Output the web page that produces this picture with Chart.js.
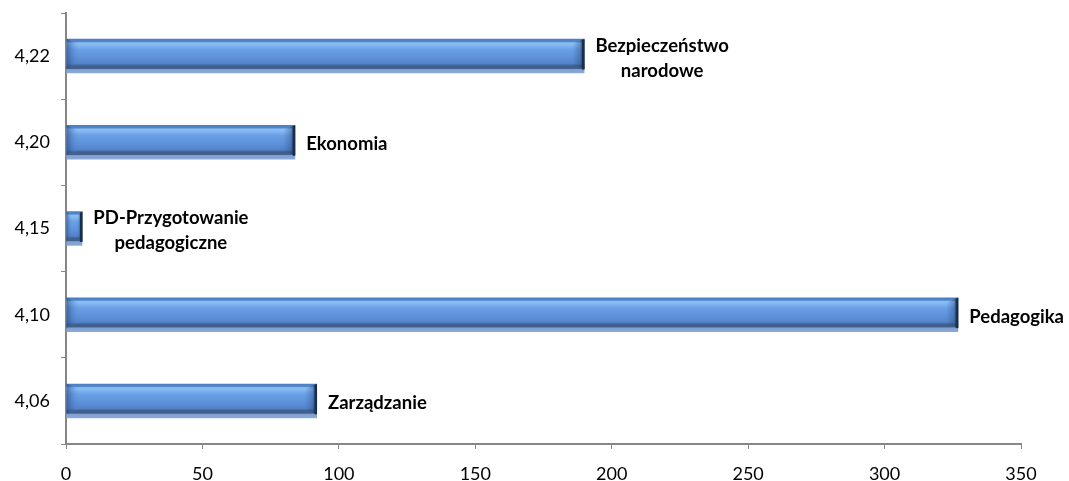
<!DOCTYPE html>
<html>
<head>
<meta charset="utf-8">
<script src="https://cdn.jsdelivr.net/npm/chart.js@4/dist/chart.umd.min.js"></script>
<style>
html,body{margin:0;padding:0;background:#fff;}
#wrap{width:1069px;height:481px;position:relative;}
</style>
</head>
<body>
<div id="wrap"><canvas id="c" width="1069" height="481"></canvas></div>
<script>
const categories = ['4,22', '4,20', '4,15', '4,10', '4,06'];
const values = [190, 84, 6, 327, 92];
const barNames = [['Bezpieczeństwo', 'narodowe'], ['Ekonomia'], ['PD-Przygotowanie', 'pedagogiczne'], ['Pedagogika'], ['Zarządzanie']];
const xTicks = [0, 50, 100, 150, 200, 250, 300, 350];

const FONT = "Lato, 'Open Sans', sans-serif";

const bevelPlugin = {
  id: 'bevel',
  beforeDatasetsDraw(chart) {
    const ctx = chart.ctx;
    const meta = chart.getDatasetMeta(0);
    meta.data.forEach(el => {
      const h = el.height;
      const top = el.y - h / 2;
      const g = ctx.createLinearGradient(0, top, 0, top + h);
      g.addColorStop(0, '#4a7cc0');
      g.addColorStop(0.08, '#5188cc');
      g.addColorStop(0.12, '#8ec0f5');
      g.addColorStop(0.2, '#80b4f0');
      g.addColorStop(0.3, '#6aa0e6');
      g.addColorStop(0.6, '#5a8dd6');
      g.addColorStop(0.72, '#5283c8');
      g.addColorStop(0.78, '#3f5f8f');
      g.addColorStop(0.86, '#445f8c');
      g.addColorStop(0.88, '#7f9fd0');
      g.addColorStop(1, '#8aaada');
      el.options = Object.assign({}, el.options, {backgroundColor: g});
    });
  },
  afterDatasetsDraw(chart) {
    const ctx = chart.ctx;
    const meta = chart.getDatasetMeta(0);
    ctx.save();
    meta.data.forEach(el => {
      const h = el.height;
      const top = el.y - h / 2;
      const left = Math.min(el.base, el.x);
      const right = Math.max(el.base, el.x);
      const w = right - left;
      const bev = Math.min(12, w / 3);
      const gr = ctx.createLinearGradient(right - bev, 0, right, 0);
      gr.addColorStop(0, 'rgba(40,70,120,0)');
      gr.addColorStop(0.6, 'rgba(40,70,120,0.35)');
      gr.addColorStop(1, 'rgba(20,35,60,0.9)');
      ctx.fillStyle = gr;
      ctx.beginPath();
      ctx.moveTo(right - bev, top + h * 0.14);
      ctx.lineTo(right, top);
      ctx.lineTo(right, top + h * 0.88);
      ctx.lineTo(right - bev, top + h * 0.76);
      ctx.closePath();
      ctx.fill();
      ctx.fillStyle = '#1b2d48';
      ctx.fillRect(right - 2.5, top + 1, 2.5, h * 0.86);
      const gl = ctx.createLinearGradient(left, 0, left + bev, 0);
      gl.addColorStop(0, 'rgba(40,70,130,0.65)');
      gl.addColorStop(1, 'rgba(90,140,210,0)');
      ctx.fillStyle = gl;
      ctx.beginPath();
      ctx.moveTo(left, top);
      ctx.lineTo(left + bev, top + h * 0.14);
      ctx.lineTo(left + bev, top + h * 0.76);
      ctx.lineTo(left, top + h * 0.88);
      ctx.closePath();
      ctx.fill();
    });
    ctx.restore();
  }
};

const labelPlugin = {
  id: 'barLabels',
  afterDatasetsDraw(chart) {
    const ctx = chart.ctx;
    const meta = chart.getDatasetMeta(0);
    ctx.save();
    ctx.font = "bold 18.5px " + FONT;
    ctx.fillStyle = '#000';
    ctx.textBaseline = 'middle';
    ctx.textAlign = 'center';
    meta.data.forEach((el, i) => {
      const lines = barNames[i];
      const maxW = Math.max(...lines.map(l => ctx.measureText(l).width));
      const x0 = el.x + 11;
      const cx = x0 + maxW / 2;
      const lh = 25;
      const startY = el.y + 2 - (lines.length - 1) * lh / 2;
      lines.forEach((l, j) => ctx.fillText(l, cx, startY + j * lh));
    });
    ctx.restore();
  }
};

new Chart(document.getElementById('c'), {
  type: 'bar',
  data: {
    labels: categories,
    datasets: [{
      data: values,
      backgroundColor: '#5a8dd6',
      borderWidth: 0,
      categoryPercentage: 1,
      barPercentage: 0.4
    }]
  },
  plugins: [bevelPlugin, labelPlugin],
  options: {
    indexAxis: 'y',
    responsive: false,
    animation: false,
    events: [],
    layout: {padding: {top: 13, right: 48, left: 0, bottom: 0}},
    plugins: {legend: {display: false}, tooltip: {enabled: false}},
    scales: {
      x: {
        type: 'linear',
        min: 0,
        max: 350,
        afterBuildTicks(scale) { scale.ticks = xTicks.map(v => ({value: v})); },
        grid: {display: true, drawOnChartArea: false, drawTicks: true, tickLength: 5, color: '#868686'},
        border: {color: '#868686', width: 2},
        ticks: {color: '#000', font: {family: FONT, size: 18}, padding: 14, maxRotation: 0},
        afterFit(scale) { scale.height = 37; scale.paddingLeft = 0; scale.paddingRight = 0; }
      },
      y: {
        grid: {display: true, drawOnChartArea: false, drawTicks: true, tickLength: 5, offset: true, color: '#868686'},
        border: {color: '#868686', width: 2},
        ticks: {color: '#000', font: {family: FONT, size: 18}, padding: 11},
        afterFit(scale) { scale.width = 66; scale.paddingTop = 0; scale.paddingBottom = 0; }
      }
    }
  }
});
</script>
</body>
</html>
